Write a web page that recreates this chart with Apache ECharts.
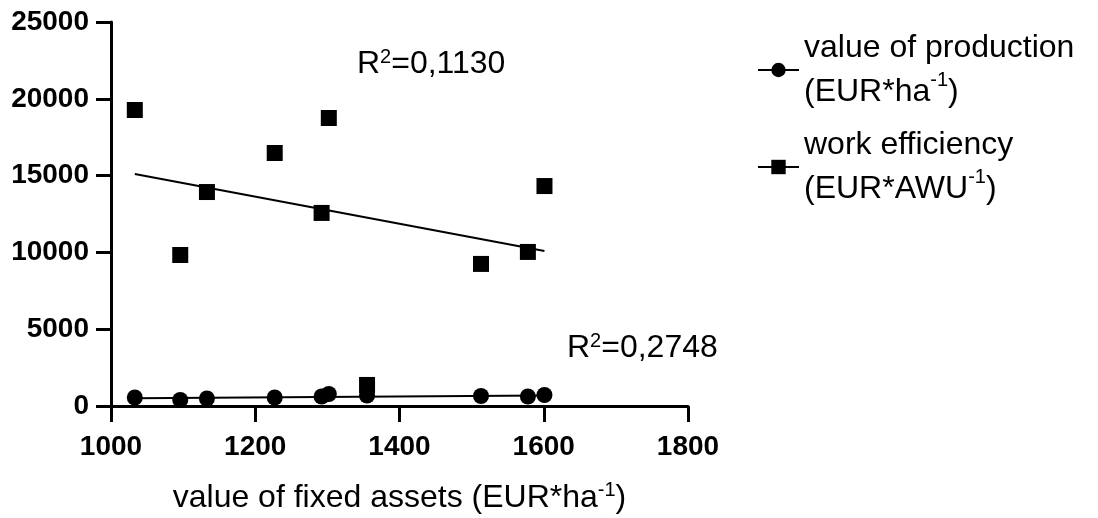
<!DOCTYPE html>
<html>
<head>
<meta charset="utf-8">
<script src="https://cdn.jsdelivr.net/npm/echarts@6/dist/echarts.min.js"></script>
<style>
html,body{margin:0;padding:0;background:#fff;}
#chart{width:1098px;height:518px;}
</style>
</head>
<body>
<div id="chart"></div>
<script>
// Data
var fixedAssets = [1033, 1096, 1133, 1227, 1292, 1302, 1355, 1513, 1578, 1601];
var valueOfProduction = [553, 390, 490, 553, 620, 780, 680, 650, 620, 715];
var workEfficiency = [19270, 9830, 13930, 16470, 12570, 18750, 1370, 9250, 10030, 14320];
// Fitted trend line end points
var prodTrendX = [1033, 1601];
var prodTrendY = [500, 690];
var workTrendX = [1033, 1601];
var workTrendY = [15100, 10090];
var xTicks = [1000, 1200, 1400, 1600, 1800];
var yTicks = [0, 5000, 10000, 15000, 20000, 25000];
var seriesNames = ['value of production', 'work efficiency'];
var r2Labels = ['0,2748', '0,1130'];

function pairs(xs, ys) { return xs.map(function (x, i) { return [x, ys[i]]; }); }

var FONT = "'Liberation Sans', Arial, sans-serif";
var chart = echarts.init(document.getElementById('chart'), null, {renderer: 'canvas'});

function richSet(mainLH) {
  return {
    t: {fontSize: 32, lineHeight: mainLH, fontFamily: FONT, color: '#000', fill: '#000'},
    s: {fontSize: 20, lineHeight: mainLH - 17, fontFamily: FONT, color: '#000', fill: '#000', verticalAlign: 'top'}
  };
}

var option = {
  animation: false,
  backgroundColor: '#fff',
  textStyle: {fontFamily: FONT, color: '#000'},
  grid: {left: 111, right: 410, top: 22, bottom: 112, containLabel: false, outerBoundsMode: 'none'},
  xAxis: {
    type: 'value',
    min: xTicks[0], max: xTicks[xTicks.length - 1], interval: 200,
    name: '{t|value of fixed assets (EUR*ha}{s|-1}{t|)}',
    nameLocation: 'middle', nameGap: 74,
    nameTextStyle: {fontSize: 32, fontFamily: FONT, color: '#000', rich: richSet(36)},
    axisLine: {show: true, lineStyle: {color: '#000', width: 3}},
    axisTick: {show: true, length: 16, lineStyle: {color: '#000', width: 3}},
    axisLabel: {fontSize: 28, fontWeight: 'bold', fontFamily: FONT, color: '#000', margin: 27,
      formatter: function (v) { return String(v); }},
    splitLine: {show: false}
  },
  yAxis: {
    type: 'value',
    min: yTicks[0], max: yTicks[yTicks.length - 1], interval: 5000,
    axisLine: {show: true, lineStyle: {color: '#000', width: 3}},
    axisTick: {show: true, length: 15, lineStyle: {color: '#000', width: 3}},
    axisLabel: {fontSize: 28, fontWeight: 'bold', fontFamily: FONT, color: '#000', margin: 22,
      formatter: function (v) { return String(v); }},
    splitLine: {show: false}
  },
  legend: {
    orient: 'vertical',
    left: 757, top: 32, padding: 0,
    itemWidth: 41, itemHeight: 18, itemGap: 21,
    data: seriesNames,
    formatter: function (name) {
      if (name === seriesNames[0]) return '{t|value of production}\n{t|(EUR*ha}{s|-1}{t|)}';
      return '{t|work efficiency}\n{t|(EUR*AWU}{s|-1}{t|)}';
    },
    textStyle: {fontFamily: FONT, color: '#000', fontSize: 32, rich: richSet(44)}
  },
  series: [
    {
      name: seriesNames[0], type: 'line', data: pairs(prodTrendX, prodTrendY),
      symbol: 'circle', showSymbol: false, symbolSize: 16,
      itemStyle: {color: '#000'}, lineStyle: {color: '#000', width: 2}, z: 2
    },
    {
      name: seriesNames[1], type: 'line', data: pairs(workTrendX, workTrendY),
      symbol: 'rect', showSymbol: false, symbolSize: 16,
      itemStyle: {color: '#000'}, lineStyle: {color: '#000', width: 2}, z: 2
    },
    {
      name: seriesNames[1], type: 'scatter', data: pairs(fixedAssets, workEfficiency),
      symbol: 'rect', symbolSize: 16, itemStyle: {color: '#000', opacity: 1}, z: 3
    },
    {
      name: seriesNames[0], type: 'scatter', data: pairs(fixedAssets, valueOfProduction),
      symbol: 'circle', symbolSize: 16, itemStyle: {color: '#000', opacity: 1}, z: 4
    }
  ],
  graphic: [
    {
      type: 'text', left: 357, top: 47,
      style: {
        text: '{t|R}{s|2}{t|=' + r2Labels[1] + '}',
        font: '32px ' + FONT, fill: '#000', rich: richSet(34)
      }
    },
    {
      type: 'text', left: 567, top: 331,
      style: {
        text: '{t|R}{s|2}{t|=' + r2Labels[0] + '}',
        font: '32px ' + FONT, fill: '#000', rich: richSet(34)
      }
    }
  ]
};
chart.setOption(option);
</script>
</body>
</html>
